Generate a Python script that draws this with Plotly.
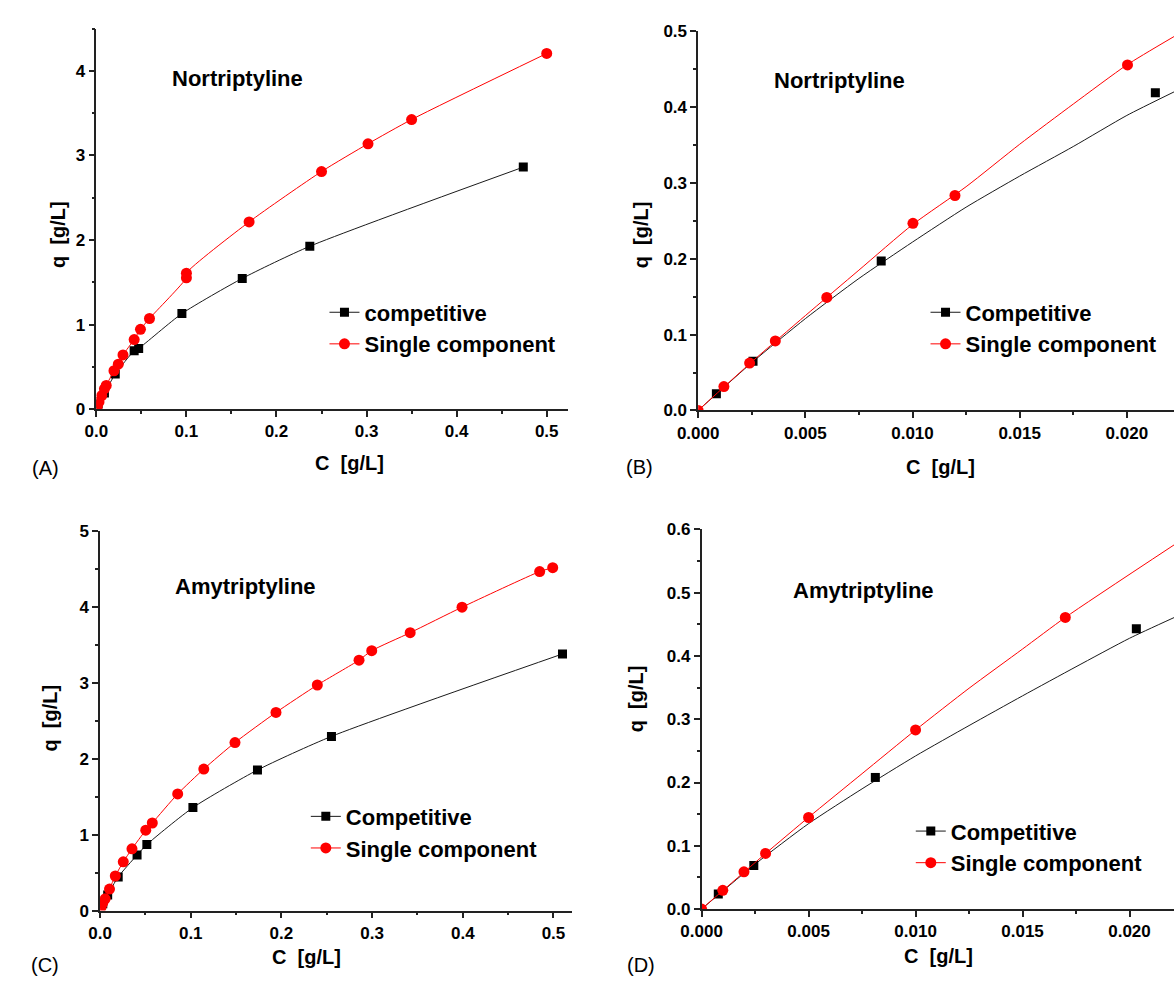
import plotly.graph_objects as go

W, H = 1174, 987
FONT = "Liberation Sans, Arial, Helvetica, sans-serif"

# ---------------- data ----------------
# (A) Nortriptyline, full range
a_comp_c = [0.002, 0.009, 0.021, 0.042, 0.047, 0.095, 0.162, 0.237, 0.474]
a_comp_q = [0.06, 0.19, 0.415, 0.69, 0.718, 1.13, 1.546, 1.926, 2.862]
a_single_c = [0.001, 0.003, 0.006, 0.009, 0.011, 0.0196, 0.0244, 0.0296, 0.042, 0.049,
              0.059, 0.1, 0.1, 0.1696, 0.25, 0.3016, 0.35, 0.5]
a_single_q = [0.03, 0.085, 0.16, 0.24, 0.28, 0.454, 0.532, 0.641, 0.823, 0.944,
              1.072, 1.553, 1.608, 2.214, 2.81, 3.138, 3.425, 4.206]

# (B) Nortriptyline, low concentration
b_comp_c = [0.00085, 0.00256, 0.00854, 0.02133]
b_comp_q = [0.022, 0.065, 0.197, 0.419]
b_comp_fit_c = [0, 0.0025, 0.005, 0.0075, 0.010, 0.0125, 0.015, 0.0175, 0.020, 0.0222]
b_comp_fit_q = [0, 0.063, 0.121, 0.174, 0.222, 0.268, 0.309, 0.348, 0.389, 0.420]
b_single_c = [0.0, 0.0012, 0.0024, 0.0036, 0.006, 0.01002, 0.01198, 0.02003]
b_single_q = [0.0, 0.0314, 0.0624, 0.0917, 0.149, 0.2468, 0.2834, 0.4556]
b_single_fit_c = [0, 0.0025, 0.005, 0.0075, 0.010, 0.0125, 0.015, 0.0175, 0.020, 0.0222]
b_single_fit_q = [0, 0.064, 0.125, 0.185, 0.245, 0.295, 0.351, 0.404, 0.4556, 0.493]

# (C) Amytriptyline, full range
c_comp_c = [0.003, 0.0084, 0.020, 0.0408, 0.0516, 0.1024, 0.1736, 0.2552, 0.51]
c_comp_q = [0.09, 0.207, 0.444, 0.732, 0.87, 1.357, 1.852, 2.295, 3.381]
c_single_c = [0.001, 0.003, 0.0056, 0.0104, 0.0168, 0.0256, 0.0352, 0.0504, 0.0576, 0.0856,
              0.1144, 0.1488, 0.194, 0.2396, 0.2856, 0.2996, 0.342, 0.3992, 0.4848, 0.4992]
c_single_q = [0.04, 0.1, 0.155, 0.284, 0.456, 0.642, 0.814, 1.059, 1.154, 1.537,
              1.865, 2.214, 2.61, 2.972, 3.299, 3.424, 3.661, 3.997, 4.466, 4.518]

# (D) Amytriptyline, low concentration
d_comp_c = [0.00078, 0.00244, 0.00812, 0.02032]
d_comp_q = [0.0238, 0.0687, 0.208, 0.443]
d_comp_fit_c = [0, 0.0025, 0.005, 0.0075, 0.010, 0.0125, 0.015, 0.0175, 0.020, 0.0221]
d_comp_fit_q = [0, 0.071, 0.135, 0.19, 0.242, 0.29, 0.337, 0.383, 0.428, 0.461]
d_single_c = [0.0, 0.00099, 0.00198, 0.00299, 0.005, 0.010, 0.017]
d_single_q = [0.0, 0.0295, 0.0589, 0.0879, 0.1447, 0.2832, 0.461]
d_single_fit_c = [0, 0.001, 0.003, 0.005, 0.0075, 0.010, 0.0125, 0.015, 0.017, 0.0221]
d_single_fit_q = [0, 0.0295, 0.088, 0.145, 0.214, 0.283, 0.349, 0.411, 0.461, 0.576]

# ---------------- styling ----------------
RED = "#ff0000"
BLK = "#1a1a1a"
SQ = dict(symbol="square", size=9, color="black")
CI = dict(symbol="circle", size=11, color=RED)


def px(x):
    return x / W


def py(y):
    return 1 - y / H


fig = go.Figure()


def add_connected(c, q, name, color, marker, xa, ya, legend):
    fig.add_trace(go.Scatter(
        x=c, y=q, mode="lines+markers", name=name,
        line=dict(color=color, width=1, shape="spline", smoothing=0.6),
        marker=marker, xaxis=xa, yaxis=ya, legend=legend))


def add_fit(c, q, fc, fq, name, color, marker, xa, ya, legend):
    fig.add_trace(go.Scatter(
        x=fc, y=fq, mode="lines", showlegend=False,
        line=dict(color=color, width=1, shape="spline", smoothing=0.6),
        xaxis=xa, yaxis=ya, hoverinfo="skip"))
    fig.add_trace(go.Scatter(
        x=c, y=q, mode="markers", showlegend=False, marker=marker,
        xaxis=xa, yaxis=ya))
    # legend entry (line + symbol)
    fig.add_trace(go.Scatter(
        x=[None], y=[None], mode="lines+markers", name=name,
        line=dict(color=color, width=1), marker=marker,
        xaxis=xa, yaxis=ya, legend=legend))


add_connected(a_comp_c, a_comp_q, "competitive", BLK, SQ, "x", "y", "legend")
add_connected(a_single_c, a_single_q, "Single component", RED, CI, "x", "y", "legend")

add_fit(b_comp_c, b_comp_q, b_comp_fit_c, b_comp_fit_q, "Competitive", BLK, SQ, "x2", "y2", "legend2")
add_fit(b_single_c, b_single_q, b_single_fit_c, b_single_fit_q, "Single component", RED, CI, "x2", "y2", "legend2")

add_connected(c_comp_c, c_comp_q, "Competitive", BLK, SQ, "x3", "y3", "legend3")
add_connected(c_single_c, c_single_q, "Single component", RED, CI, "x3", "y3", "legend3")

add_fit(d_comp_c, d_comp_q, d_comp_fit_c, d_comp_fit_q, "Competitive", BLK, SQ, "x4", "y4", "legend4")
add_fit(d_single_c, d_single_q, d_single_fit_c, d_single_fit_q, "Single component", RED, CI, "x4", "y4", "legend4")

TICKFONT = dict(family=FONT, size=17, color="black", weight="bold")


def axis(domain, rng, dtick, fmt, anchor):
    return dict(
        domain=domain, range=rng, autorange=False, anchor=anchor,
        showgrid=False, zeroline=False, showline=True, linecolor="#222", linewidth=1.5,
        ticks="outside", ticklen=6, tickwidth=1.5, tickcolor="#222",
        tickmode="linear", tick0=0, dtick=dtick, tickformat=fmt, tickfont=TICKFONT,
        minor=dict(ticks="outside", ticklen=3, tickwidth=1.5, tickcolor="#222",
                   dtick=dtick / 2, tick0=0, showgrid=False),
        fixedrange=True,
    )


panels = {
    # name: (x px range, y px range (top, bottom), xrange, yrange, xdtick, ydtick, xfmt, yfmt)
    "1": ((76.7, 557.3), (20, 408), [0, 0.524], [0, 4.5], 0.1, 1, ".1f", "d"),
    "2": ((689.5, 1174), (22.7, 409.3), [0, 0.0222], [0, 0.5], 0.005, 0.1, ".3f", ".1f"),
    "3": ((80.5, 560.6), (532.3, 919.3), [0, 0.520], [0, 5], 0.1, 1, ".1f", "d"),
    "4": ((693, 1174), (530.7, 917.7), [0, 0.02208], [0, 0.6], 0.005, 0.1, ".3f", ".1f"),
}

layout_axes = {}
for k, (xp, yp, xr, yr, xd, yd, xf, yf) in panels.items():
    sfx = "" if k == "1" else k
    layout_axes["xaxis" + sfx] = axis([px(xp[0]), px(xp[1])], xr, xd, xf, "y" + sfx)
    layout_axes["yaxis" + sfx] = axis([py(yp[1]), py(yp[0])], yr, yd, yf, "x" + sfx)

LEGFONT = dict(family=FONT, size=22, color="black", weight="bold")


def legend(xl, yt):
    return dict(x=px(xl), y=py(yt), xanchor="left", yanchor="top",
                bgcolor="rgba(0,0,0,0)", font=LEGFONT, tracegroupgap=0,
                itemclick=False, itemdoubleclick=False)


annotations = []


def ann(text, x, y, size, bold=True, angle=0):
    annotations.append(dict(
        text=text, x=px(x), y=py(y), xref="paper", yref="paper",
        xanchor="center", yanchor="middle", showarrow=False, textangle=angle,
        font=dict(family=FONT, size=size, color="black",
                  weight="bold" if bold else "normal")))


# compound names
ann("Nortriptyline", 220, 71, 22)
ann("Nortriptyline", 833, 73, 22)
ann("Amytriptyline", 229, 589, 22)
ann("Amytriptyline", 858, 593, 22)
# axis titles
ann("C  [g/L]", 334, 463, 20)
ann("C  [g/L]", 936, 467, 20)
ann("C  [g/L]", 291, 967, 20)
ann("C  [g/L]", 934, 966, 20)
ann("q  [g/L]", 37, 230, 20, angle=-90)
ann("q  [g/L]", 631, 230, 20, angle=-90)
ann("q  [g/L]", 30, 723, 20, angle=-90)
ann("q  [g/L]", 627, 703, 20, angle=-90)
# panel letters
ann("(A)", 25, 468, 20, bold=False)
ann("(B)", 630, 467, 20, bold=False)
ann("(C)", 24, 975, 20, bold=False)
ann("(D)", 631, 975, 20, bold=False)

fig.update_layout(
    width=W, height=H, margin=dict(l=0, r=0, t=0, b=0),
    paper_bgcolor="white", plot_bgcolor="white",
    font=dict(family=FONT, color="black"),
    showlegend=True,
    legend=legend(309, 288),
    legend2=legend(921, 288),
    legend3=legend(290, 802),
    legend4=legend(906, 817),
    annotations=annotations,
    **layout_axes,
)

fig.write_html("out.html")
